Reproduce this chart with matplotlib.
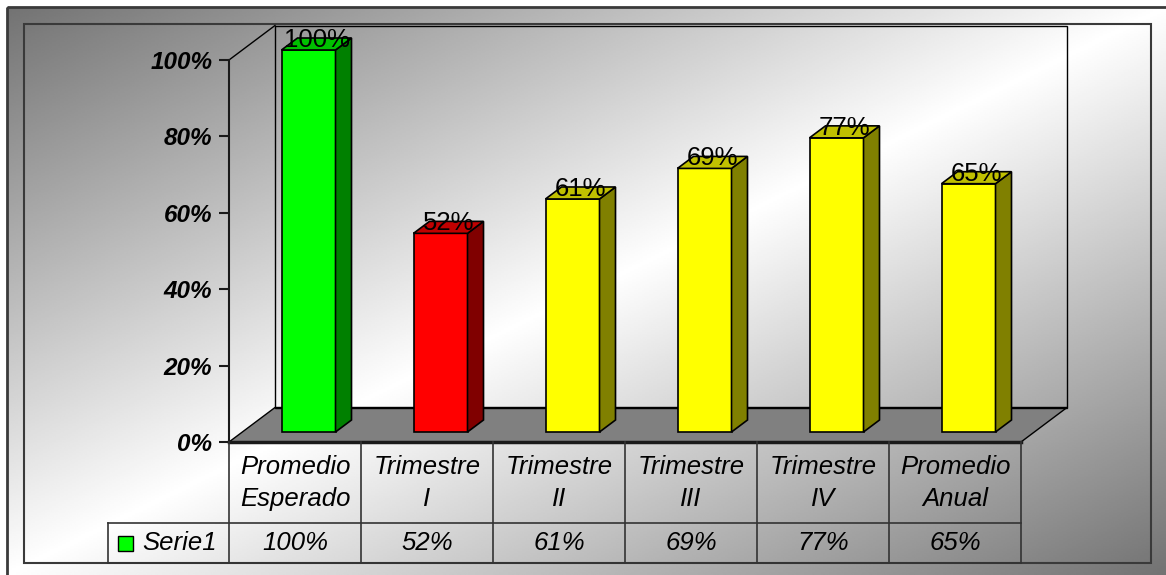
import matplotlib
matplotlib.use('Agg')
import matplotlib.pyplot as plt
from matplotlib.patches import Polygon, Rectangle
import numpy as np

plt.rcParams['font.family'] = ['Liberation Sans', 'DejaVu Sans']

# datos
categorias = ['Promedio\nEsperado', 'Trimestre\nI', 'Trimestre\nII',
              'Trimestre\nIII', 'Trimestre\nIV', 'Promedio\nAnual']
valores = [1.00, 0.52, 0.61, 0.69, 0.77, 0.65]
etiquetas = ['100%', '52%', '61%', '69%', '77%', '65%']
serie = 'Serie1'
color_serie = '#00ff00'
colores_frente = ['#00ff00', '#ff0000', '#ffff00', '#ffff00', '#ffff00', '#ffff00']
colores_lado = ['#008000', '#800000', '#808000', '#808000', '#808000', '#808000']
colores_tapa = ['#00c000', '#c00000', '#c0c000', '#c0c000', '#c0c000', '#c0c000']
marcas_y = [0, 0.2, 0.4, 0.6, 0.8, 1.0]
textos_y = ['0%', '20%', '40%', '60%', '80%', '100%']

W, H = 1166, 575
fig = plt.figure(figsize=(W / 100, H / 100), dpi=100)

# fondo degradado y marcos
bg = fig.add_axes([0, 0, 1, 1])
bg.set_xlim(0, W)
bg.set_ylim(H, 0)
bg.axis('off')
xx, yy = np.meshgrid(np.linspace(0, 1, 600), np.linspace(0, 1, 300))
t = np.abs(xx + yy - 1)
gris = 1 - 0.55 * t
bg.imshow(gris, cmap='gray', vmin=0, vmax=1, extent=[7, W, H, 7],
          aspect='auto', interpolation='bilinear')
bg.add_patch(Rectangle((7, 7), W, H, fill=False, edgecolor='#3a3a3a', lw=2))
bg.add_patch(Rectangle((24, 24), 1151 - 24, 563 - 24, fill=False,
                       edgecolor='#3a3a3a', lw=1.5))

# ejes principales en el plano frontal
x0, x1 = 229, 1021
y0, y1 = 442, 60
ax = fig.add_axes([x0 / W, 1 - y0 / H, (x1 - x0) / W, (y0 - y1) / H])
ax.set_xlim(0, 6)
ax.set_ylim(0, 1)
ax.patch.set_visible(False)
for s in ax.spines.values():
    s.set_visible(False)
ax.spines['left'].set_visible(True)
ax.spines['left'].set_color('#1a1a1a')
ax.spines['left'].set_linewidth(1.5)
ax.set_xticks([])
ax.set_yticks(marcas_y)
ax.set_yticklabels(textos_y, fontweight='bold', fontstyle='italic', fontsize=17.5)
ax.tick_params(axis='y', length=7, width=1.5, color='#1a1a1a', pad=5)

# profundidad (en unidades de datos)
px_x = (x1 - x0) / 6
px_y = (y0 - y1)
pared = (46 / px_x, 34.5 / px_y)
desp = (13.5 / px_x, 10 / px_y)
fondo = (16 / px_x, 12 / px_y)
media = 27 / px_x

# piso y paredes
ax.add_patch(Polygon([(0, 0), (6, 0), (6 + pared[0], pared[1]), (pared[0], pared[1])],
                     closed=True, facecolor='#808080', edgecolor='black', lw=1,
                     clip_on=False, zorder=1))
ax.add_patch(Rectangle(pared, 6, 1, fill=False, edgecolor='black', lw=1,
                       clip_on=False, zorder=1))
ax.plot([0, pared[0]], [1, 1 + pared[1]], color='black', lw=1, clip_on=False, zorder=1)
ax.plot([0, 6], [0, 0], color='#1a1a1a', lw=2.5, clip_on=False, zorder=2)

# barras 3D
for i, v in enumerate(valores):
    cx = i + 0.5 + desp[0]
    by = desp[1]
    izq, der = cx - media, cx + media
    ax.add_patch(Rectangle((izq, by), 2 * media, v, facecolor=colores_frente[i],
                           edgecolor='black', lw=1.2, clip_on=False, zorder=3))
    ax.add_patch(Polygon([(der, by), (der + fondo[0], by + fondo[1]),
                          (der + fondo[0], by + v + fondo[1]), (der, by + v)],
                         closed=True, facecolor=colores_lado[i], edgecolor='black',
                         lw=1.2, clip_on=False, zorder=3))
    ax.add_patch(Polygon([(izq, by + v), (der, by + v),
                          (der + fondo[0], by + v + fondo[1]),
                          (izq + fondo[0], by + v + fondo[1])],
                         closed=True, facecolor=colores_tapa[i], edgecolor='black',
                         lw=1.2, clip_on=False, zorder=3))
    ax.text(cx + fondo[0] / 2, by + v + fondo[1] / 2 - 3 / px_y, etiquetas[i],
            ha='center', va='baseline', fontsize=18.5, color='black',
            clip_on=False, zorder=4)

# tabla de datos
tb = fig.add_axes([x0 / W, 1 - 563 / H, (x1 - x0) / W, 121 / H])
tb.set_xlim(0, 6)
tb.set_ylim(121, 0)
tb.axis('off')
borde = -121 / px_x
linea = dict(color='#333333', lw=1.2, clip_on=False)
tb.plot([borde, 6], [81, 81], **linea)
tb.plot([borde, 6], [121, 121], **linea)
tb.plot([borde, borde], [81, 121], **linea)
for k in range(7):
    tb.plot([k, k], [0, 121], **linea)

for i, (c, e) in enumerate(zip(categorias, etiquetas)):
    tb.text(i + 0.5, 41, c, ha='center', va='center', fontsize=18.5,
            fontstyle='italic', linespacing=1.45)
    tb.text(i + 0.5, 101, e, ha='center', va='center', fontsize=18.5,
            fontstyle='italic')

tb.add_patch(Rectangle((borde + 10 / px_x, 93.5), 15 / px_x, 15,
                       facecolor=color_serie, edgecolor='black', lw=1, clip_on=False))
tb.text(borde + 34 / px_x, 101, serie, ha='left', va='center', fontsize=18.5,
        fontstyle='italic')

fig.savefig('out.png', dpi=100)
